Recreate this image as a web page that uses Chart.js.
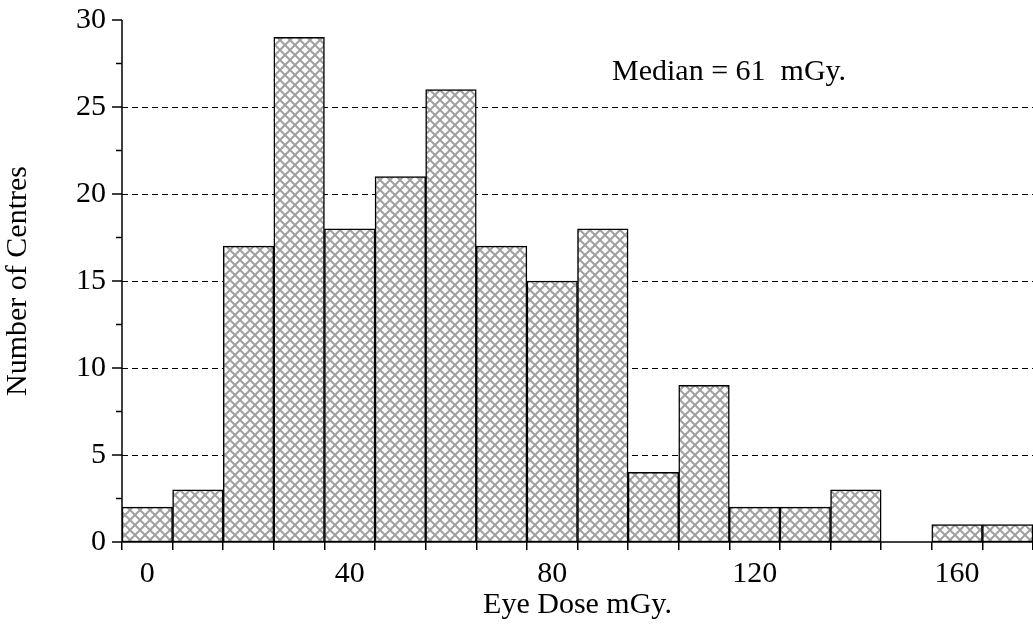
<!DOCTYPE html>
<html><head><meta charset="utf-8">
<script src="https://cdn.jsdelivr.net/npm/chart.js@4"></script>
<style>html,body{margin:0;background:#fff}#w{width:1033px;height:638px}</style>
</head><body><div id="w"><canvas id="c"></canvas></div>
<script>
const binCentres = [0,10,20,30,40,50,60,70,80,90,100,110,120,130,140,150,160,170];
const counts = [2,3,17,29,18,21,26,17,15,18,4,9,2,2,3,0,1,1];
const shownXLabels = [0,40,80,120,160];
const yTicks = [0,5,10,15,20,25,30];
const medianText = 'Median = 61  mGy.';
const FONT = '"Liberation Serif", "DejaVu Serif", serif';
const FS = 30;

function makePattern(){
  const p = document.createElement('canvas'); p.width = 10; p.height = 10;
  const g = p.getContext('2d');
  g.fillStyle = '#fff'; g.fillRect(0,0,10,10);
  g.strokeStyle = '#a0a0a0'; g.lineWidth = 2;
  g.beginPath(); g.moveTo(0,0); g.lineTo(10,10); g.moveTo(10,0); g.lineTo(0,10); g.stroke();
  return document.getElementById('c').getContext('2d').createPattern(p,'repeat');
}

const extras = {
  id:'extras',
  beforeDatasetsDraw(chart){
    const {ctx, chartArea:a, scales:{y}} = chart;
    ctx.save();
    ctx.strokeStyle = '#000'; ctx.lineWidth = 1; ctx.setLineDash([6,4]);
    for (const v of yTicks){
      if (v === 0 || v === 30) continue;
      const py = Math.round(y.getPixelForValue(v)) + 0.5;
      ctx.beginPath(); ctx.moveTo(a.left, py); ctx.lineTo(a.right, py); ctx.stroke();
    }
    ctx.restore();
  },
  afterDraw(chart){
    const {ctx, chartArea:a, scales:{y}} = chart;
    ctx.save();
    ctx.strokeStyle = '#000'; ctx.lineWidth = 1.5;
    for (let i = 0; i < yTicks.length - 1; i++){
      const py = y.getPixelForValue((yTicks[i] + yTicks[i+1]) / 2);
      ctx.beginPath(); ctx.moveTo(a.left-6, py); ctx.lineTo(a.left, py); ctx.stroke();
    }
    ctx.fillStyle = '#000'; ctx.font = FS + 'px ' + FONT;
    ctx.textAlign = 'right'; ctx.textBaseline = 'middle';
    for (const v of yTicks){
      const py = y.getPixelForValue(v);
      ctx.beginPath(); ctx.moveTo(a.left-10, py); ctx.lineTo(a.left, py); ctx.stroke();
      ctx.fillText(String(v), a.left - 16, py);
    }
    ctx.beginPath(); ctx.moveTo(a.left, a.top); ctx.lineTo(a.left, a.bottom); ctx.lineTo(a.right, a.bottom); ctx.stroke();
    ctx.textAlign = 'left';
    ctx.fillText(medianText, 612, 72);
    ctx.restore();
  }
};

new Chart(document.getElementById('c'), {
  type:'bar',
  data:{labels:binCentres.map(String), datasets:[{data:counts, backgroundColor:makePattern(), borderColor:'#000', borderWidth:1.5, borderSkipped:false, categoryPercentage:1, barPercentage:1}]},
  options:{
    responsive:true, maintainAspectRatio:false, animation:false,
    layout:{padding:{top:20,right:0,bottom:11,left:0}},
    plugins:{legend:{display:false}, tooltip:{enabled:false}},
    scales:{
      x:{offset:true,
        grid:{offset:true, drawOnChartArea:false, color:'#000', lineWidth:1.5, tickLength:8},
        border:{display:false},
        ticks:{autoSkip:false, maxRotation:0, color:'#000', font:{family:FONT,size:FS}, padding:6,
          callback(v){ const c = binCentres[v]; return shownXLabels.includes(c) ? String(c) : ''; }},
        title:{display:true, text:'Eye Dose mGy.', color:'#000', font:{family:FONT,size:FS}, padding:{top:-11,bottom:4}}
      },
      y:{min:0,max:30,
        afterFit(s){ s.width = 122; },
        grid:{display:false},
        border:{display:false},
        ticks:{display:false, stepSize:5},
        title:{display:true, text:'Number of Centres', color:'#000', font:{family:FONT,size:FS}, padding:{top:0,bottom:4}}
      }
    }
  },
  plugins:[extras]
});
</script></body></html>
